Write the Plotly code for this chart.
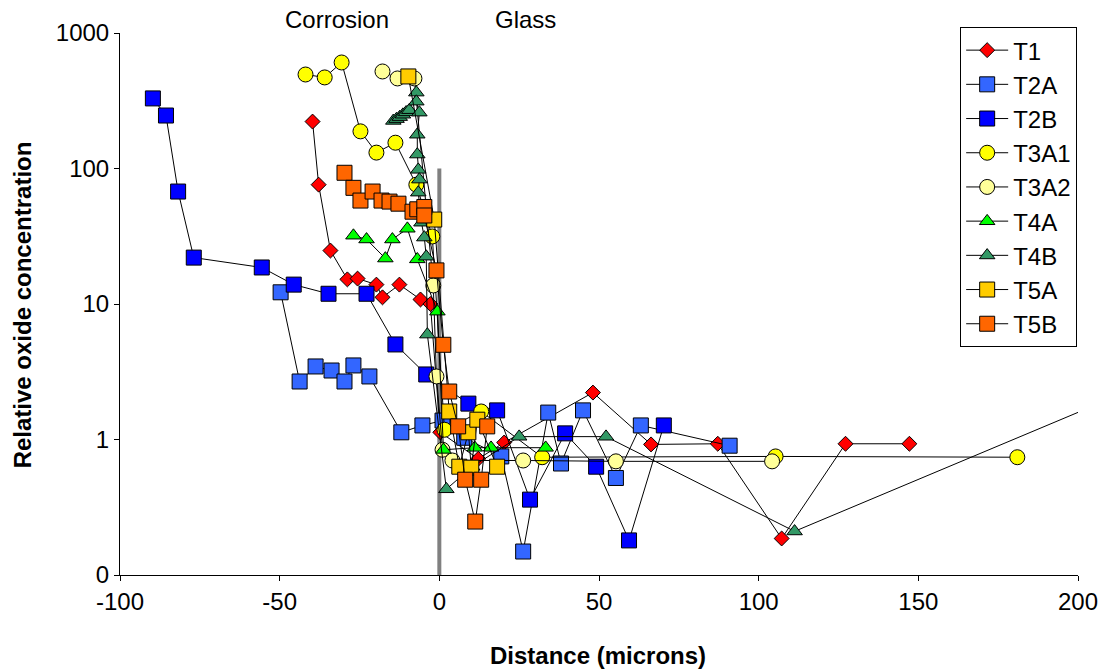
import plotly.graph_objects as go

# ---- data (distance in microns, relative oxide concentration) ----
t1_x = [-39.7, -37.8, -34.1, -28.8, -25.6, -19.7, -17.8, -12.5, -5.9, -2.8, 0.3, 12.2, 20.3, 48.1, 66.3, 87.2, 107.2, 127.2, 147.2]
t1_y = [222, 76, 24.8, 15.2, 15.4, 13.9, 11.2, 13.9, 10.8, 10.0, 1.13, 0.72, 0.95, 2.22, 0.92, 0.93, 0.186, 0.93, 0.93]

t2a_x = [-49.7, -43.75, -38.75, -33.75, -29.7, -26.9, -21.9, -11.9, -5.3, 1.0, 7.8, 19.4, 26.25, 34.1, 38.1, 45.0, 55.3, 63.1, 90.9]
t2a_y = [12.2, 2.68, 3.46, 3.23, 2.68, 3.52, 2.92, 1.13, 1.27, 1.38, 1.03, 0.75, 0.149, 1.58, 0.665, 1.64, 0.52, 1.27, 0.90]

t2b_x = [-89.7, -85.6, -81.8, -76.9, -55.6, -45.6, -34.7, -22.8, -13.75, -4.1, 9.1, 18.1, 28.4, 39.4, 49.1, 59.4, 70.3]
t2b_y = [329, 246, 67.6, 22.0, 18.6, 13.9, 11.9, 11.9, 5.03, 3.02, 1.84, 1.64, 0.36, 1.11, 0.63, 0.18, 1.27]

t3a1_x = [-41.9, -35.9, -30.6, -24.7, -19.7, -13.75, -7.2, -2.2, 1.6, 13.1, 32.2, 105.3, 181.0]
t3a1_y = [494, 470, 606, 188, 131, 155, 76, 31.5, 1.18, 1.61, 0.74, 0.75, 0.74]

t3a2_x = [-17.8, -13.1, -7.8, -1.9, -0.9, 1.0, 4.1, 26.25, 55.3, 104.2]
t3a2_y = [520, 462, 462, 13.7, 2.92, 0.84, 0.70, 0.70, 0.69, 0.69]

t4a_x = [-26.9, -22.8, -16.9, -14.7, -10.0, -6.9, -0.6, 1.3, 11.1, 16.2, 33.3]
t4a_y = [32, 30, 21.7, 30, 36, 21.4, 8.8, 0.84, 0.87, 0.87, 0.87]

t4b_x = [-14.4, -13.4, -12.4, -11.4, -10.4, -9.4, -7.2, -7.2, -6.25, -6.9, -6.9, -6.6, -6.25, -6.6, -5.6, -4.7, -4.1, -3.75, 2.2, 10.3, 25.0, 52.2, 111.25, 220.0]
t4b_y = [225, 232, 240, 250, 260, 270, 364, 312, 259, 178, 127, 98, 83, 66.5, 39.9, 31, 22.4, 5.96, 0.43, 0.63, 1.05, 1.05, 0.21, 2.5]

t5a_x = [-9.7, -1.6, 3.1, 6.25, 9.1, 10.0, 11.9, 18.1]
t5a_y = [478, 42, 1.61, 0.63, 1.13, 0.62, 1.40, 0.63]

t5b_x = [-29.7, -26.9, -24.7, -20.9, -18.1, -15.6, -12.8, -8.4, -6.9, -4.7, -4.7, -0.9, 1.25, 3.1, 5.9, 8.1, 11.25, 13.1, 15.0]
t5b_y = [93, 72, 58, 67.6, 58, 57, 55, 48, 50, 52, 45, 17.7, 5.0, 2.26, 1.25, 0.505, 0.248, 0.505, 1.25]

interface_x = [0, 0]
interface_y = [0.1, 100]

x_ticks = [-100, -50, 0, 50, 100, 150, 200]
y_tickvals = [0.1, 1, 10, 100, 1000]
y_ticktext = ["0", "1", "10", "100", "1000"]

series = [
    ("T1", t1_x, t1_y, "diamond", "#FF0000", 11.5),
    ("T2A", t2a_x, t2a_y, "square", "#3366FF", 15),
    ("T2B", t2b_x, t2b_y, "square", "#0000FF", 15),
    ("T3A1", t3a1_x, t3a1_y, "circle", "#FFFF00", 15),
    ("T3A2", t3a2_x, t3a2_y, "circle", "#FFFF99", 15),
    ("T4A", t4a_x, t4a_y, "triangle-up", "#00FF00", 13.5),
    ("T4B", t4b_x, t4b_y, "triangle-up", "#339966", 13.5),
    ("T5A", t5a_x, t5a_y, "square", "#FFCC00", 15),
    ("T5B", t5b_x, t5b_y, "square", "#FF6600", 15),
]

FONT = "Liberation Sans, Arial, sans-serif"

fig = go.Figure()
fig.add_trace(go.Scatter(x=interface_x, y=interface_y, mode="lines",
                         line=dict(color="#808080", width=4), showlegend=False,
                         hoverinfo="skip"))
for name, xs, ys, sym, col, sz in series:
    fig.add_trace(go.Scatter(
        x=xs, y=ys, name=name, mode="lines+markers",
        line=dict(color="black", width=1),
        marker=dict(symbol=sym, color=col, size=sz,
                    line=dict(color="black", width=1)),
    ))

fig.update_layout(
    width=1110, height=670,
    margin=dict(l=120, r=30, t=33, b=95),
    plot_bgcolor="white", paper_bgcolor="white",
    font=dict(family=FONT, size=24, color="black"),
    showlegend=True,
    legend=dict(x=0.877, y=1.011, xanchor="left", yanchor="top",
                bordercolor="black", borderwidth=1, bgcolor="white",
                font=dict(family=FONT, size=24, color="black"),
                tracegroupgap=0, itemwidth=42),
    xaxis=dict(range=[-100, 200], tickvals=x_ticks, ticktext=[str(v) for v in x_ticks],
               showgrid=False, zeroline=False, showline=True, linecolor="black",
               linewidth=1, ticks="outside", ticklen=5, tickcolor="black",
               tickfont=dict(size=24), mirror=False),
    yaxis=dict(type="log", range=[-1, 3], tickvals=y_tickvals, ticktext=y_ticktext,
               showgrid=False, zeroline=False, showline=True, linecolor="black",
               linewidth=1, ticks="outside", ticklen=5, tickcolor="black",
               tickfont=dict(size=24)),
    annotations=[
        dict(text="<b>Distance (microns)</b>", x=0.499, y=-0.148, xref="paper", yref="paper",
             showarrow=False, font=dict(size=24), xanchor="center", yanchor="middle"),
        dict(text="<b>Relative oxide concentration</b>", x=-0.102, y=0.498, xref="paper",
             yref="paper", showarrow=False, textangle=-90, font=dict(size=24),
             xanchor="center", yanchor="middle"),
        dict(text="Corrosion", x=0.227, y=1.024, xref="paper", yref="paper",
             showarrow=False, font=dict(size=24), xanchor="center", yanchor="middle"),
        dict(text="Glass", x=0.423, y=1.024, xref="paper", yref="paper",
             showarrow=False, font=dict(size=24), xanchor="center", yanchor="middle"),
    ],
)

fig.write_html("out.html")
